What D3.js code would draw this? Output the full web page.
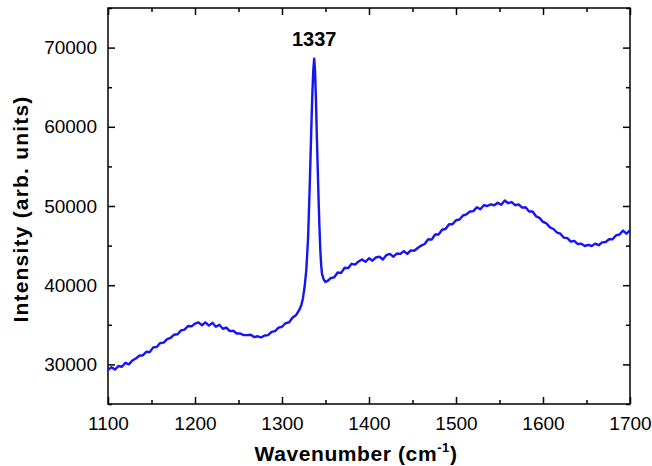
<!DOCTYPE html>
<html>
  <head>
    <meta charset="utf-8"/>
    <style>
body {
  margin: 0;
  background: #fff;
}
svg text {
  font-family: "Liberation Sans", Arial, sans-serif;
}
    </style>
  </head>
  <body>
    <svg id="chart" width="652" height="466"></svg>
    <script src="https://cdnjs.cloudflare.com/ajax/libs/d3/7.8.5/d3.min.js"></script>
    <script>
// Raman spectrum
const wavenumber = [
  1100, 1104, 1108, 1112, 1116, 1120, 1124, 1128, 1132, 1136, 1140, 1144, 1148, 1152, 1156, 1160,
  1164, 1168, 1172, 1176, 1180, 1184, 1188, 1192, 1196, 1200, 1204, 1208, 1212, 1216, 1220, 1224,
  1228, 1232, 1236, 1240, 1244, 1248, 1252, 1256, 1260, 1264, 1268, 1272, 1276, 1280, 1284, 1288,
  1292, 1296, 1300, 1304, 1308, 1312, 1316, 1320, 1322, 1324, 1326, 1328, 1330, 1332, 1334, 1335,
  1336, 1337, 1338, 1339, 1340, 1341, 1342, 1343, 1344, 1345, 1346, 1348, 1350, 1352, 1356, 1360,
  1364, 1368, 1372, 1376, 1380, 1384, 1388, 1392, 1396, 1400, 1404, 1408, 1412, 1416, 1420, 1424,
  1428, 1432, 1436, 1440, 1444, 1448, 1452, 1456, 1460, 1464, 1468, 1472, 1476, 1480, 1484, 1488,
  1492, 1496, 1500, 1504, 1508, 1512, 1516, 1520, 1524, 1528, 1532, 1536, 1540, 1544, 1548, 1552,
  1556, 1560, 1564, 1568, 1572, 1576, 1580, 1584, 1588, 1592, 1596, 1600, 1604, 1608, 1612, 1616,
  1620, 1624, 1628, 1632, 1636, 1640, 1644, 1648, 1652, 1656, 1660, 1664, 1668, 1672, 1676, 1680,
  1684, 1688, 1692, 1696, 1700
];
const intensity = [
  29300, 29650, 29350, 29800, 29700, 30200, 30000, 30500, 30750, 31100, 31150, 31600, 31550, 32150, 32200, 32700,
  32750, 33200, 33350, 33750, 33800, 34300, 34400, 34850, 34800, 35150, 35300, 34950, 35300, 34900, 35250, 34750,
  35000, 34500, 34650, 34200, 34250, 33900, 33900, 33700, 33700, 33750, 33450, 33550, 33400, 33650, 33700, 34100,
  34200, 34650, 34750, 35200, 35300, 35900, 36200, 36900, 37400, 38300, 39800, 42000, 46000, 53000, 61000, 64500,
  67200, 68600, 67000, 63500, 59000, 55000, 51000, 47500, 44500, 42600, 41400, 40700, 40400, 40500, 40900, 41000,
  41600, 41550, 42200, 42150, 42700, 42600, 43000, 43250, 42950, 43400, 43100, 43500, 43600, 43250, 43800, 43950,
  43600, 44000, 43950, 44300, 43950, 44400, 44350, 44700, 45000, 45200, 45800, 45750, 46400, 46400, 47000, 47100,
  47700, 47700, 48200, 48300, 48800, 48950, 49300, 49350, 49850, 49600, 50100, 50000, 50200, 50100, 50400, 50150,
  50700, 50350, 50500, 50100, 50200, 49800, 49850, 49300, 49300, 48700, 48500, 48000, 47800, 47300, 47100, 46650,
  46500, 46000, 45950, 45500, 45600, 45200, 45250, 44950, 45100, 44950, 45250, 45050, 45400, 45450, 45800, 45800,
  46300, 46400, 46900, 46500, 46950
];
const xTicks = [1100, 1200, 1300, 1400, 1500, 1600, 1700];
const yTicks = [30000, 40000, 50000, 60000, 70000];
const peakLabel = { x: 1337, y: 68600, text: "1337" };

const margin = { top: 8, right: 22, bottom: 62, left: 108 };
const width = 652 - margin.left - margin.right,
      height = 466 - margin.top - margin.bottom;

const svg = d3.select("#chart");
const g = svg.append("g")
    .attr("transform", `translate(${margin.left},${margin.top})`);

const x = d3.scaleLinear().domain([1100, 1700]).range([0, width]);
const y = d3.scaleLinear().domain([25000, 75000]).range([height, 0]);

const xMinor = d3.range(1150, 1700, 100);
const yMinor = d3.range(25000, 75001, 10000);

function tickStyle(sel) {
  sel.select(".domain").remove();
  sel.selectAll("line").attr("stroke", "#000").attr("stroke-width", 1.5);
  sel.selectAll("text")
    .attr("fill", "#000")
    .attr("font-size", 19);
}

// bottom / left axes with labels, ticks pointing in
g.append("g")
    .attr("transform", `translate(0,${height})`)
    .call(d3.axisBottom(x).tickValues(xTicks).tickFormat(d3.format("d")).tickSizeInner(-7).tickPadding(13))
    .call(tickStyle);
g.append("g")
    .attr("transform", `translate(0,${height})`)
    .call(d3.axisBottom(x).tickValues(xMinor).tickFormat("").tickSizeInner(-4))
    .call(tickStyle);
g.append("g")
    .call(d3.axisLeft(y).tickValues(yTicks).tickFormat(d3.format("d")).tickSizeInner(-7).tickPadding(11))
    .call(tickStyle);
g.append("g")
    .call(d3.axisLeft(y).tickValues(yMinor).tickFormat("").tickSizeInner(-4))
    .call(tickStyle);

// mirrored ticks on top and right
g.append("g")
    .call(d3.axisTop(x).tickValues(xTicks).tickFormat("").tickSizeInner(-7))
    .call(tickStyle);
g.append("g")
    .call(d3.axisTop(x).tickValues(xMinor).tickFormat("").tickSizeInner(-4))
    .call(tickStyle);
g.append("g")
    .attr("transform", `translate(${width},0)`)
    .call(d3.axisRight(y).tickValues(yTicks).tickFormat("").tickSizeInner(-7))
    .call(tickStyle);
g.append("g")
    .attr("transform", `translate(${width},0)`)
    .call(d3.axisRight(y).tickValues(yMinor).tickFormat("").tickSizeInner(-4))
    .call(tickStyle);

// frame
g.append("rect")
    .attr("width", width)
    .attr("height", height)
    .attr("fill", "none")
    .attr("stroke", "#000")
    .attr("stroke-width", 1.5);

const line = d3.line()
    .x((d, i) => x(wavenumber[i]))
    .y(d => y(d));

g.append("path")
    .datum(intensity)
    .attr("fill", "none")
    .attr("stroke", "#1414f5")
    .attr("stroke-width", 2.4)
    .attr("stroke-linejoin", "round")
    .attr("d", line);

g.append("text")
    .attr("x", x(peakLabel.x))
    .attr("y", y(peakLabel.y) - 13)
    .attr("text-anchor", "middle")
    .attr("font-size", 20)
    .attr("font-weight", "bold")
    .text(peakLabel.text);

// axis titles
const xt = svg.append("text")
    .attr("x", margin.left + width / 2 - 13)
    .attr("y", 461)
    .attr("text-anchor", "middle")
    .attr("font-size", 21)
    .attr("font-weight", "bold")
    .attr("letter-spacing", 0.6);
xt.append("tspan").text("Wavenumber (cm");
xt.append("tspan").attr("dy", -9).attr("font-size", 13).text("-1");
xt.append("tspan").attr("dy", 9).text(")");

svg.append("text")
    .attr("transform", `translate(28,${margin.top + height / 2 + 3}) rotate(-90)`)
    .attr("text-anchor", "middle")
    .attr("font-size", 21)
    .attr("font-weight", "bold")
    .attr("letter-spacing", 1.2)
    .text("Intensity (arb. units)");
    </script>
  </body>
</html>
